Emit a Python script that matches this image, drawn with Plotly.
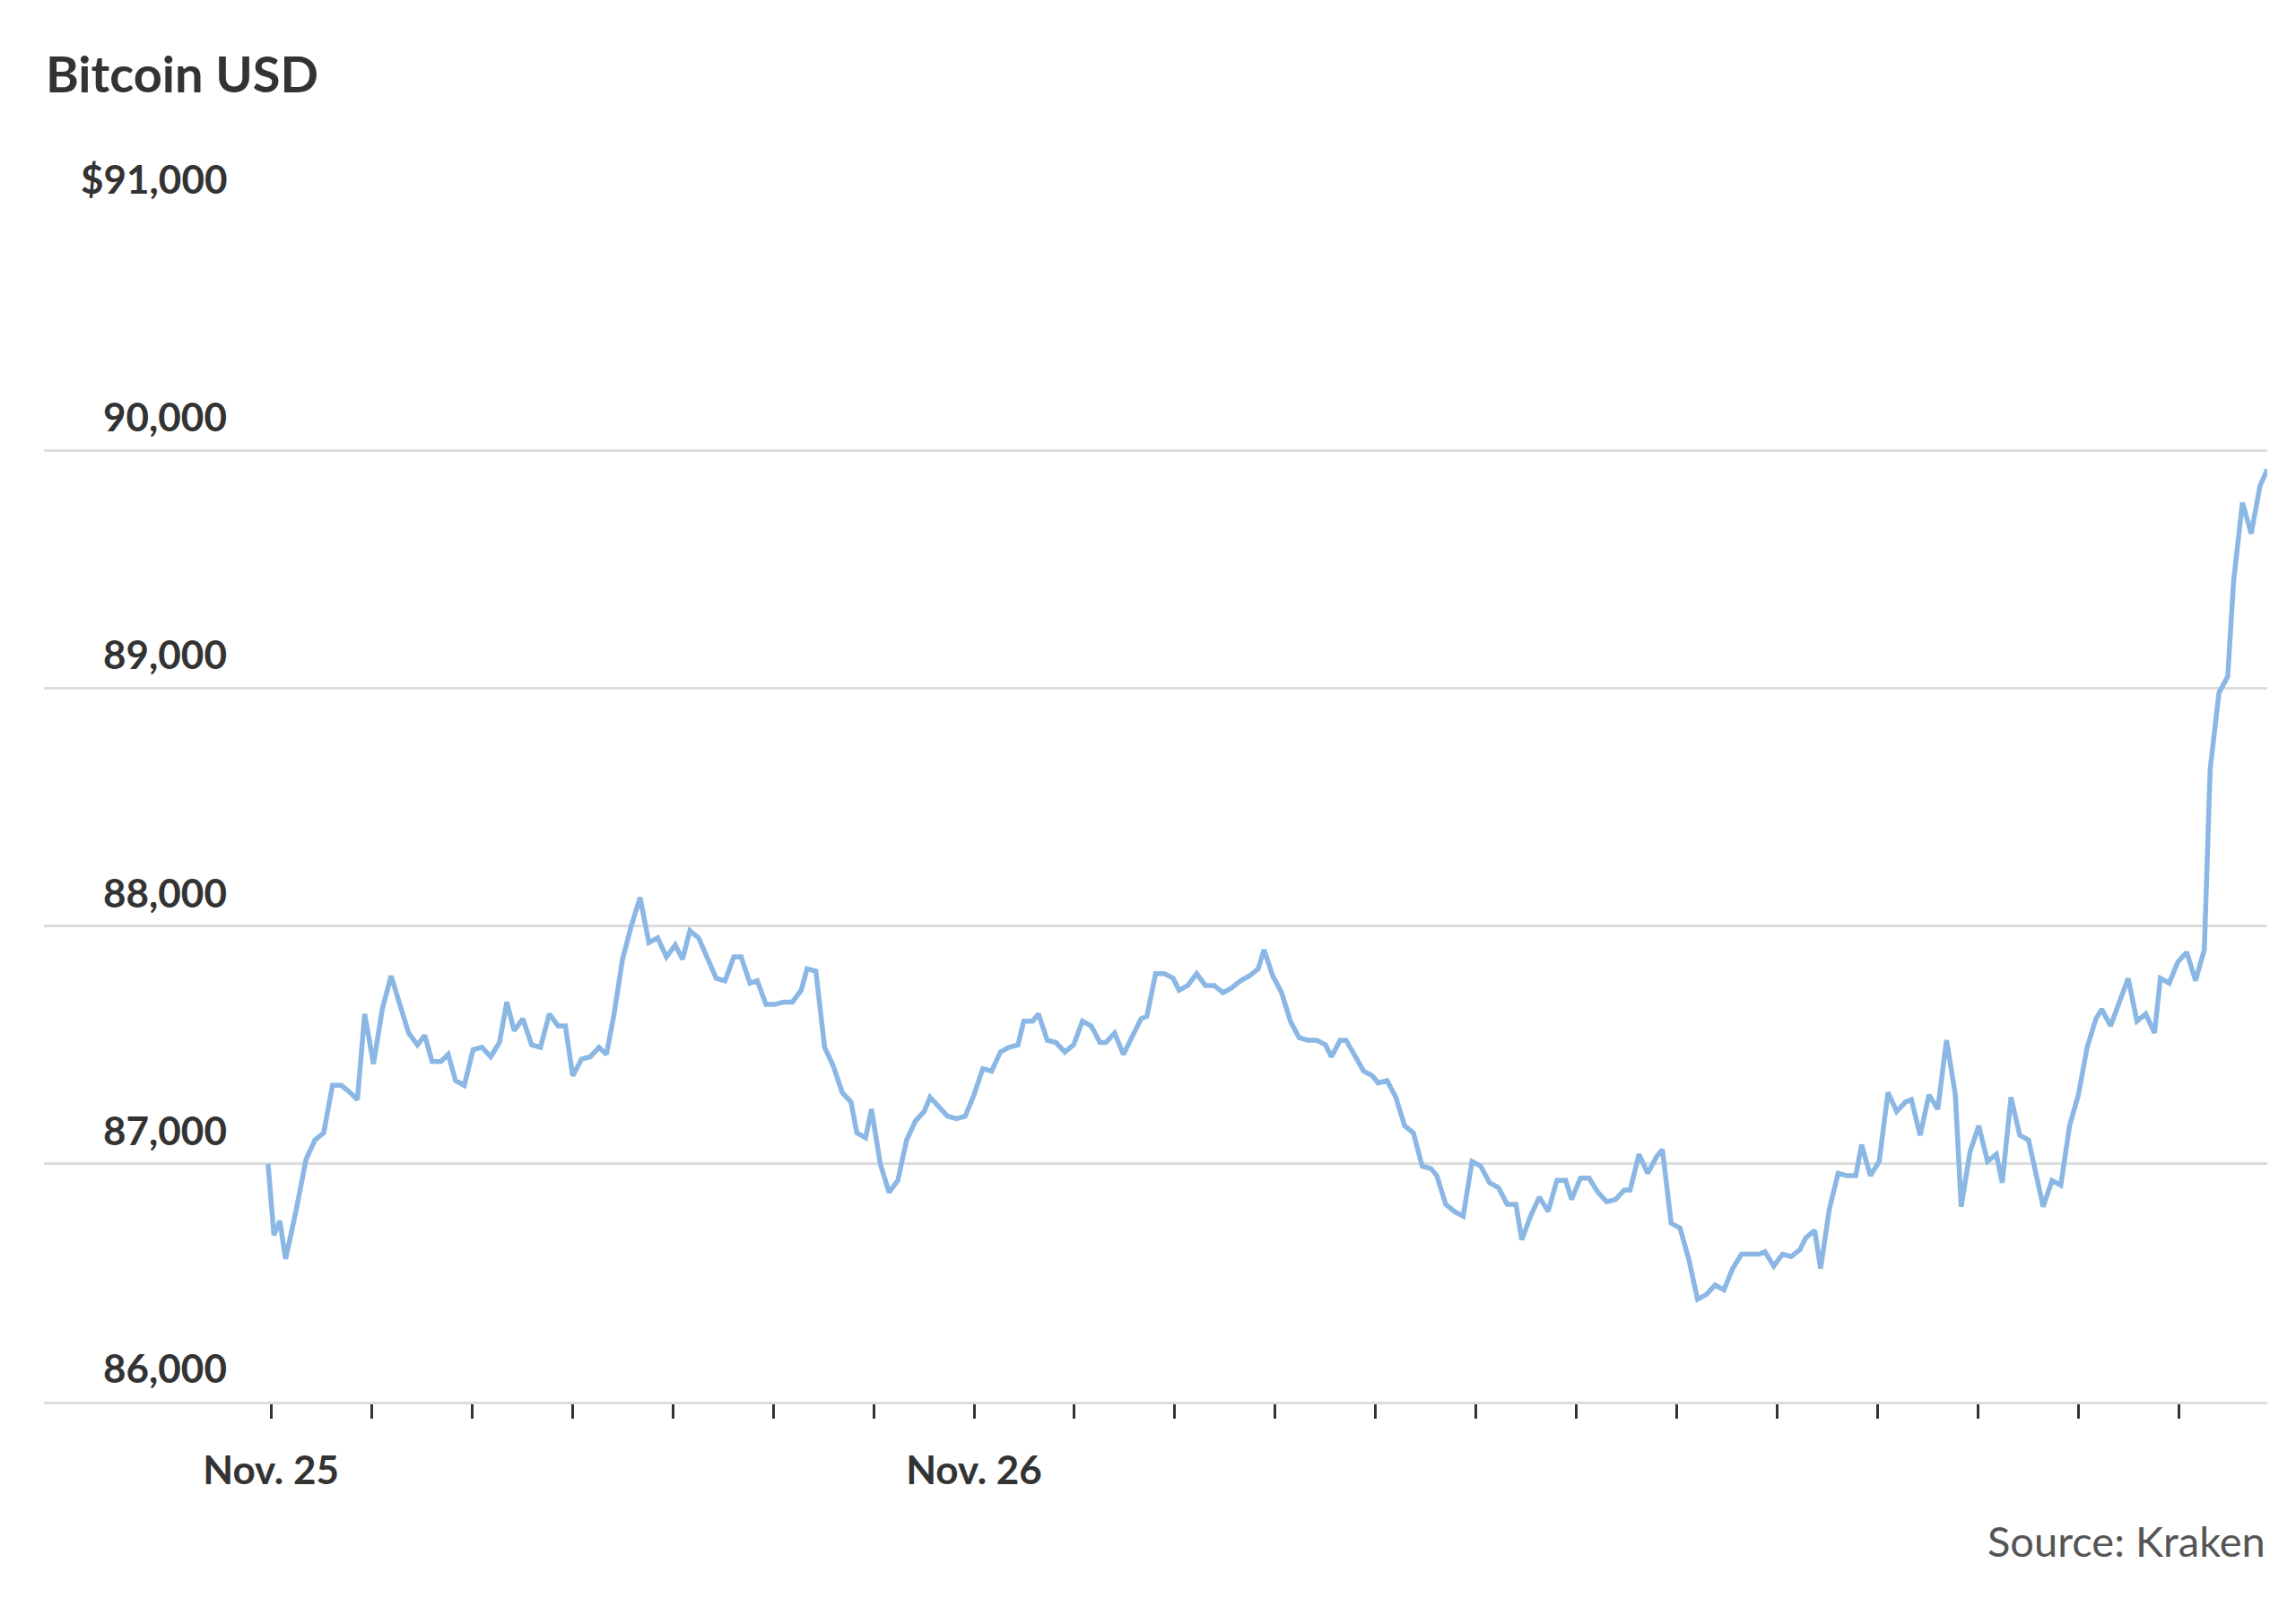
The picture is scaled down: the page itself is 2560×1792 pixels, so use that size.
import plotly.graph_objects as go

# minutes since Nov. 25 00:00
minutes = [
    -6, 0, 6, 18, 30, 51, 72, 90, 108, 126,
    144, 162, 177, 192, 210, 228, 246, 264, 282, 300,
    315, 330, 348, 363, 378, 396, 414, 432, 450, 468,
    483, 498, 516, 534, 552, 570, 588, 603, 618, 636,
    654, 672, 687, 702, 720, 738, 756, 774, 792, 810,
    828, 843, 858, 876, 894, 912, 930, 948, 963, 981,
    996, 1014, 1032, 1050, 1068, 1086, 1098, 1116, 1134, 1152,
    1170, 1188, 1200, 1218, 1230, 1248, 1266, 1284, 1302, 1320,
    1338, 1350, 1368, 1386, 1404, 1422, 1440, 1458, 1476, 1494,
    1512, 1530, 1542, 1560, 1572, 1590, 1608, 1626, 1644, 1662,
    1680, 1698, 1710, 1728, 1746, 1764, 1782, 1794, 1812, 1830,
    1848, 1860, 1878, 1896, 1914, 1932, 1950, 1968, 1986, 2004,
    2022, 2034, 2052, 2070, 2088, 2106, 2124, 2142, 2160, 2172,
    2190, 2202, 2220, 2238, 2256, 2268, 2286, 2304, 2322, 2340,
    2358, 2376, 2388, 2406, 2424, 2442, 2460, 2478, 2496, 2514,
    2532, 2550, 2562, 2580, 2598, 2616, 2634, 2652, 2664, 2682,
    2700, 2718, 2736, 2754, 2772, 2784, 2802, 2820, 2838, 2850,
    2868, 2886, 2904, 2922, 2940, 2958, 2976, 2994, 3012, 3030,
    3048, 3060, 3078, 3096, 3114, 3132, 3144, 3162, 3174, 3192,
    3210, 3228, 3246, 3258, 3276, 3294, 3312, 3330, 3348, 3360,
    3378, 3396, 3414, 3432, 3450, 3462, 3480, 3498, 3516, 3534,
    3546, 3564, 3582, 3600, 3618, 3630, 3648, 3666, 3684, 3702,
    3720, 3738, 3750, 3768, 3786, 3804, 3822, 3840, 3858, 3870,
    3888, 3906, 3924, 3942, 3960, 3972, 3990, 4008, 4020, 4038,
    4056, 4074, 4089,
]
prices = [
    87000, 86850, 86700, 86760, 86600, 86800, 87020, 87100, 87130, 87330,
    87330, 87300, 87270, 87630, 87420, 87650, 87790, 87670, 87550, 87500,
    87540, 87430, 87430, 87460, 87350, 87330, 87480, 87490, 87450, 87510,
    87680, 87560, 87610, 87500, 87490, 87630, 87580, 87580, 87370, 87440,
    87450, 87490, 87460, 87620, 87860, 88000, 88120, 87930, 87950, 87870,
    87920, 87860, 87980, 87950, 87860, 87780, 87770, 87870, 87870, 87760,
    87770, 87670, 87670, 87680, 87680, 87730, 87820, 87810, 87490, 87410,
    87300, 87260, 87130, 87110, 87230, 87000, 86880, 86930, 87100, 87180,
    87220, 87280, 87240, 87200, 87190, 87200, 87290, 87400, 87390, 87470,
    87490, 87500, 87600, 87600, 87630, 87520, 87510, 87470, 87500, 87600,
    87580, 87510, 87510, 87550, 87460, 87540, 87610, 87620, 87800, 87800,
    87780, 87730, 87750, 87800, 87750, 87750, 87720, 87740, 87770, 87790,
    87820, 87900, 87790, 87720, 87600, 87530, 87520, 87520, 87500, 87450,
    87520, 87520, 87450, 87390, 87370, 87340, 87350, 87280, 87160, 87130,
    86990, 86980, 86950, 86830, 86800, 86780, 87010, 86990, 86920, 86900,
    86830, 86830, 86680, 86780, 86860, 86800, 86930, 86930, 86850, 86940,
    86940, 86880, 86840, 86850, 86890, 86890, 87040, 86960, 87030, 87060,
    86750, 86730, 86600, 86430, 86450, 86490, 86470, 86560, 86620, 86620,
    86620, 86630, 86570, 86620, 86610, 86640, 86690, 86720, 86560, 86810,
    86960, 86950, 86950, 87080, 86950, 87010, 87300, 87220, 87260, 87270,
    87120, 87290, 87230, 87520, 87290, 86820, 87050, 87160, 87010, 87040,
    86920, 87280, 87120, 87100, 86920, 86820, 86930, 86910, 87160, 87290,
    87490, 87610, 87650, 87580, 87680, 87780, 87600, 87630, 87550, 87780,
    87760, 87850, 87890, 87770, 87900, 88660, 88980, 89050, 89450, 89780,
    89650, 89850, 89920,
]

y_ticks = [86000, 87000, 88000, 89000, 90000, 91000]
y_labels = ["86,000", "87,000", "88,000", "89,000", "90,000", "$91,000"]
x_tick_step = 1440 / 7
x_ticks = [i * x_tick_step for i in range(20)]
x_labels = ["Nov. 25" if i == 0 else "Nov. 26" if i == 7 else "" for i in range(20)]

FONT = "Lato, Roboto, sans-serif"
GRID = "#dcdcdc"

fig = go.Figure(
    go.Scatter(x=minutes, y=prices, mode="lines",
               line=dict(color="#8ab7e3", width=5.5), hoverinfo="skip")
)

for v, t in zip(y_ticks, y_labels):
    fig.add_annotation(x=0.083, xref="paper", xanchor="right", y=v, yref="y",
                       yanchor="bottom", yshift=10, text=f"<b>{t}</b>", showarrow=False,
                       font=dict(family=FONT, size=44, color="#333"))

fig.add_annotation(x=0, xref="paper", y=1792 - 45 * 1.633, yref="paper", text="<b>Bitcoin USD</b>",
                   showarrow=False, xanchor="left", yanchor="middle",
                   font=dict(family=FONT, size=56, color="#333"))
fig.add_annotation(x=1, xref="paper", y=0, yref="paper", text="Source: Kraken", showarrow=False,
                   xanchor="right", yanchor="middle", yshift=-(1050 - 955) * 1.633,
                   font=dict(family=FONT, size=47, color="#555"))
fig.update_annotations(selector=dict(text="<b>Bitcoin USD</b>"), yref="paper", y=1.0,
                       yanchor="middle", yshift=(955 - 45) * 1.633 - (955 - 140) * 1.633)

fig.update_layout(
    width=2560, height=1792, plot_bgcolor="white", paper_bgcolor="white",
    margin=dict(l=41, r=40, t=229, b=237), showlegend=False,
    xaxis=dict(range=[-465, 4089], tickvals=x_ticks, ticktext=x_labels,
               showgrid=False, zeroline=False, ticks="outside", ticklen=16, tickwidth=3,
               tickcolor="#333", showline=True, linecolor=GRID, linewidth=3,
               tickfont=dict(family=FONT, size=44, color="#333"), ticklabelstandoff=20),
    yaxis=dict(range=[86000, 91000], tickvals=y_ticks, showticklabels=False,
               showgrid=True, gridcolor=GRID, gridwidth=3, zeroline=False),
)
fig.update_xaxes(ticktext=[f"<b>{t}</b>" if t else "" for t in x_labels])

fig.write_html("out.html")
